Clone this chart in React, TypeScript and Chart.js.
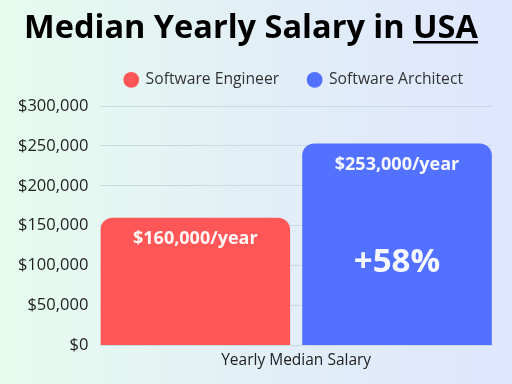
import React, { useEffect, useRef } from "react";
import { Chart, registerables } from "chart.js";

Chart.register(...registerables);

const titleText = "Median Yearly Salary in ";
const titleUnderlined = "USA";
const categories = ["Yearly Median Salary"];
const seriesNames = ["Software Engineer", "Software Architect"];
const seriesValues = [[160000], [253000]];
const seriesColors = ["#ff5757", "#5271ff"];
const yMin = 0;
const yMax = 300000;
const yStep = 50000;

const fmtMoney = (v: number) => "$" + v.toLocaleString("en-US");

const titlePlugin = {
  id: "customTitle",
  afterDraw(chart: any) {
    const ctx = chart.ctx;
    ctx.save();
    ctx.font = "bold 32.5px 'Open Sans'";
    ctx.fillStyle = "#000000";
    ctx.textBaseline = "alphabetic";
    ctx.textAlign = "left";
    const full = titleText + titleUnderlined;
    const w = ctx.measureText(full).width;
    const wu = ctx.measureText(titleUnderlined).width;
    const cx = 251;
    const x0 = cx - w / 2;
    const baseY = 38;
    ctx.fillText(full, x0, baseY);
    ctx.fillRect(x0 + w - wu, baseY + 3, wu, 2.5);
    ctx.restore();
  },
};

const labelPlugin = {
  id: "barLabels",
  afterDatasetsDraw(chart: any) {
    const ctx = chart.ctx;
    ctx.save();
    ctx.textAlign = "center";
    ctx.textBaseline = "middle";
    ctx.fillStyle = "rgba(255,255,255,0.95)";
    chart.data.datasets.forEach((ds: any, i: number) => {
      const meta = chart.getDatasetMeta(i);
      meta.data.forEach((bar: any, j: number) => {
        const v = ds.data[j];
        ctx.font = "bold 18px 'Open Sans'";
        ctx.fillText(fmtMoney(v) + "/year", bar.x, bar.y + 21);
        if (i === chart.data.datasets.length - 1 && i > 0) {
          const prev = chart.data.datasets[0].data[j];
          const pct = Math.round(((v - prev) / prev) * 100);
          ctx.font = "bold 33px 'Open Sans'";
          ctx.fillText("+" + pct + "%", bar.x, bar.y + (bar.base - bar.y) * 0.59);
        }
      });
    });
    ctx.restore();
  },
};

export default function App() {
  const ref = useRef<HTMLCanvasElement>(null);
  useEffect(() => {
    if (!ref.current) return;
    const chart = new Chart(ref.current, {
      type: "bar",
      data: {
        labels: categories,
        datasets: seriesNames.map((name, i) => ({
          label: name,
          data: seriesValues[i],
          backgroundColor: seriesColors[i],
          borderRadius: 12,
          borderSkipped: "start",
          categoryPercentage: 1.03,
          barPercentage: 0.94,
        })),
      },
      options: {
        animation: false,
        responsive: false,
        maintainAspectRatio: false,
        layout: { padding: { top: 43, left: 6, right: 20, bottom: 8 } },
        plugins: {
          title: {
            display: true,
            text: "",
            weight: 500,
            padding: 0,
            font: { size: 10, lineHeight: 0.83 },
          },
          legend: {
            display: true,
            position: "top",
            align: "end",
            fullSize: true,
            labels: {
              usePointStyle: true,
              pointStyle: "circle",
              boxWidth: 13,
              boxHeight: 11.2,
              padding: 29,
              color: "#333333",
              font: { size: 15.7, family: "'Open Sans'" },
            },
          },
          tooltip: { enabled: false },
        },
        scales: {
          x: {
            grid: { display: false, drawTicks: false },
            border: { display: false },
            ticks: {
              color: "#222222",
              padding: 6,
              font: { size: 15.5, family: "'Open Sans'" },
            },
          },
          y: {
            min: yMin,
            max: yMax,
            border: { display: false },
            grid: { color: "#c9dbe2", drawTicks: false, lineWidth: 1 },
            ticks: {
              stepSize: yStep,
              color: "#222222",
              padding: 12,
              font: { size: 16.5, family: "'Open Sans'" },
              callback: (v: any) => fmtMoney(Number(v)),
            },
          },
        },
      },
      plugins: [titlePlugin, labelPlugin],
    } as any);
    return () => chart.destroy();
  }, []);
  return (
    <div
      style={{
        position: "fixed",
        left: 0,
        top: 0,
        width: 512,
        height: 384,
        background: "linear-gradient(to right, #e6fcee, #e2eff6 50%, #dfe6ff)",
      }}
    >
      <canvas ref={ref} width={512} height={384} style={{ display: "block" }} />
    </div>
  );
}
